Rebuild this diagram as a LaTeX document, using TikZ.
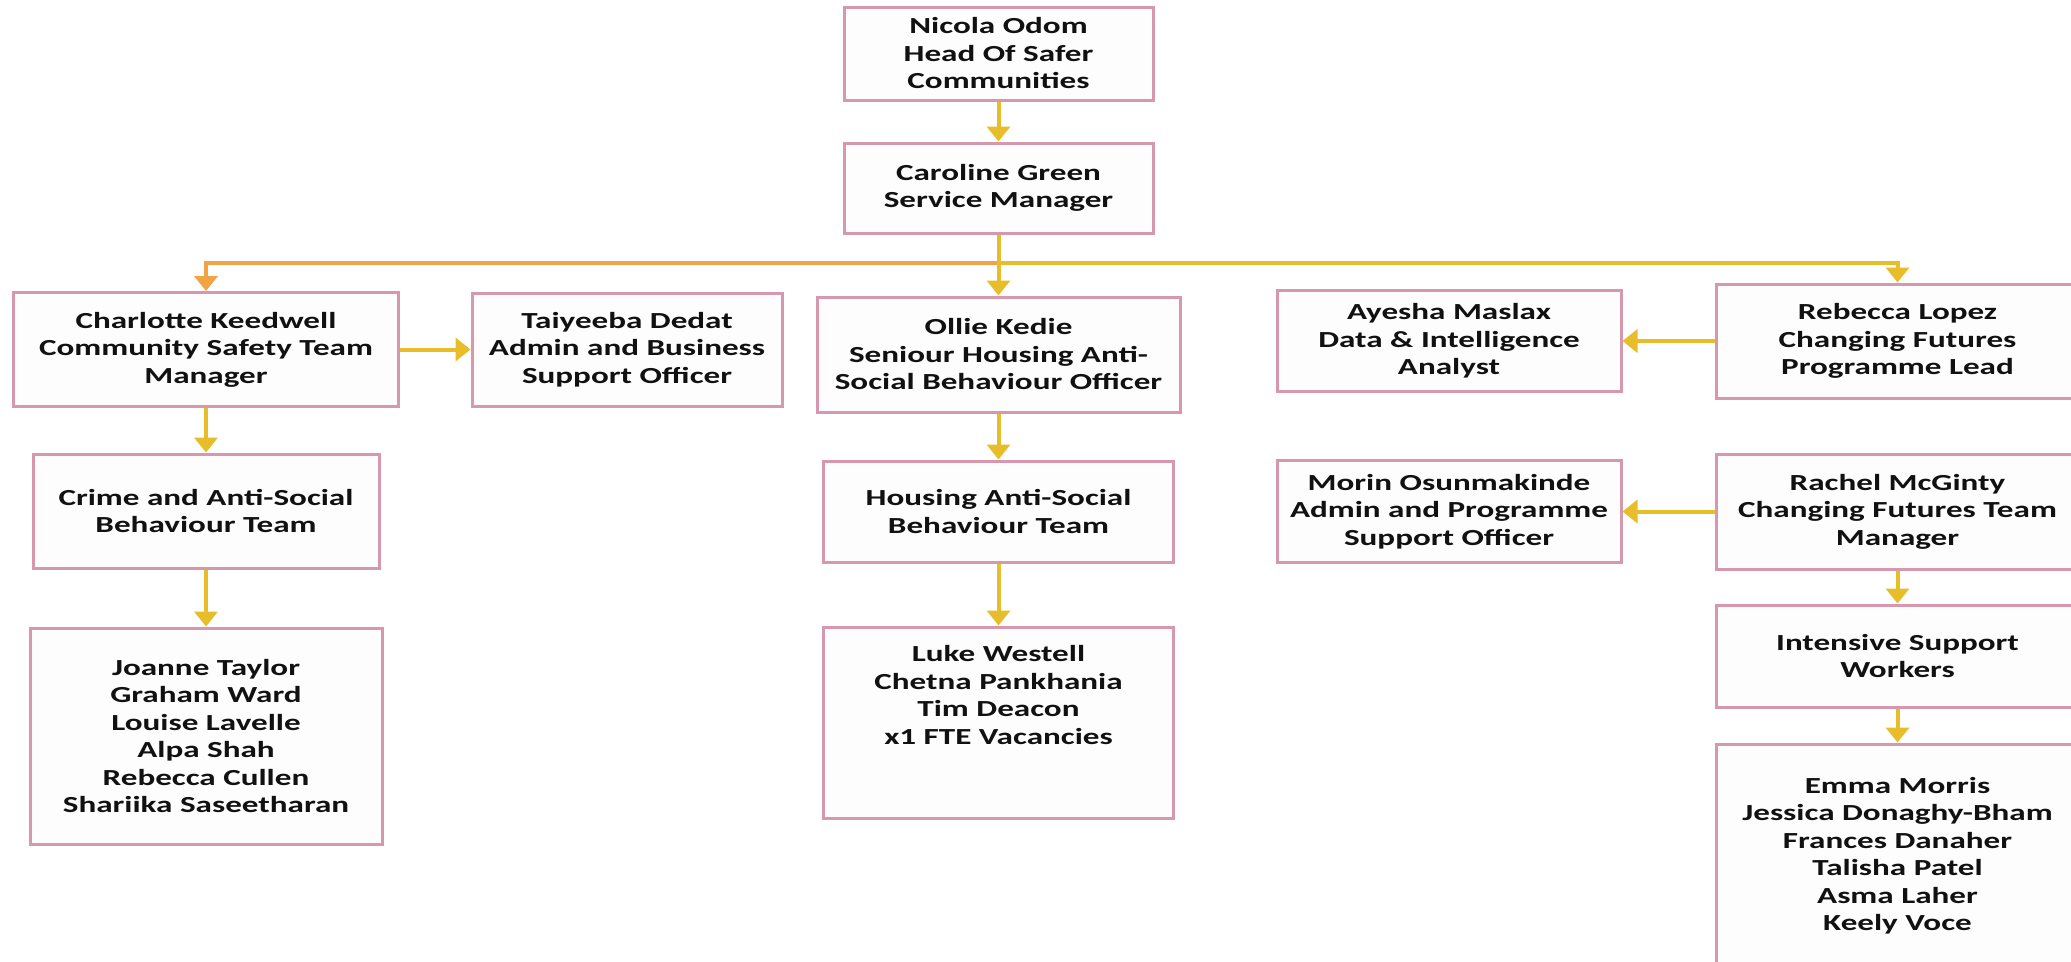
\documentclass[tikz,border=0pt]{standalone}
\usepackage{fontspec}
\setmainfont{Carlito}[FakeStretch=1.44]
\usetikzlibrary{arrows.meta}
\definecolor{boxpink}{HTML}{D697AF}
\definecolor{arrowyellow}{HTML}{E8BD2A}
\definecolor{arroworange}{HTML}{F2A444}
\definecolor{boxfill}{HTML}{FDFDFD}
\definecolor{txt}{HTML}{111111}
\begin{document}
\begin{tikzpicture}[x=1pt,y=-1pt,
  box/.style={draw=boxpink, line width=3pt, fill=boxfill, align=center, inner sep=0pt,
    font=\bfseries\fontsize{23}{27.5}\selectfont, text=txt},
  boxtext/.style={align=center, inner sep=0pt, font=\bfseries\fontsize{23}{27.5}\selectfont, text=txt},
  conn/.style={draw=arrowyellow, line width=4pt, -{Triangle[width=23pt,length=15pt]}},
  connorange/.style={draw=arroworange, line width=4pt, -{Triangle[width=23pt,length=15pt]}}]
\useasboundingbox (0,0) rectangle (2071,961);
\clip (0,0) rectangle (2071,961);
\fill[white] (0,0) rectangle (2071,961);
% top
\node[box, minimum width=309pt, minimum height=93pt] (nicola) at (998.5,53.5) {Nicola Odom\\Head Of Safer\\Communities};
\node[box, minimum width=309pt, minimum height=90pt] (caroline) at (998.5,188) {Caroline Green\\Service Manager};
% left column
\node[box, minimum width=385pt, minimum height=114pt] (charlotte) at (206,349.5) {Charlotte Keedwell\\Community Safety Team\\Manager};
\node[box, minimum width=310pt, minimum height=113pt] (taiyeeba) at (627,349.5) {Taiyeeba Dedat\\Admin and Business\\Support Officer};
\node[box, minimum width=346pt, minimum height=114pt] (crime) at (206,511) {Crime and Anti-Social\\Behaviour Team};
\node[box, minimum width=352pt, minimum height=216pt] (joanne) at (206,736) {Joanne Taylor\\Graham Ward\\Louise Lavelle\\Alpa Shah\\Rebecca Cullen\\Shariika Saseetharan};
% centre column
\node[box, minimum width=363pt, minimum height=115pt] (ollie) at (998.5,354.5) {Ollie Kedie\\Seniour Housing Anti-\\Social Behaviour Officer};
\node[box, minimum width=350pt, minimum height=101pt] (housing) at (998.5,511.5) {Housing Anti-Social\\Behaviour Team};
\node[box, minimum width=350pt, minimum height=191pt] (luke) at (998.5,722.5) {};
\node[boxtext] (luketext) at (998.5,695) {Luke Westell\\Chetna Pankhania\\Tim Deacon\\x1 FTE Vacancies};
% right columns
\node[box, minimum width=344pt, minimum height=101pt] (ayesha) at (1449,341) {Ayesha Maslax\\Data \& Intelligence\\Analyst};
\node[box, minimum width=363pt, minimum height=114pt] (rebecca) at (1897.5,341) {Rebecca Lopez\\Changing Futures\\Programme Lead};
\node[box, minimum width=344pt, minimum height=102pt] (morin) at (1449,511.5) {Morin Osunmakinde\\Admin and Programme\\Support Officer};
\node[box, minimum width=363pt, minimum height=115pt] (rachel) at (1897.5,511.5) {Rachel McGinty\\Changing Futures Team\\Manager};
\node[box, minimum width=363pt, minimum height=102pt] (intensive) at (1897.5,656) {Intensive Support\\Workers};
\node[box, minimum width=363pt, minimum height=223pt] (emma) at (1897.5,855.5) {Emma Morris\\Jessica Donaghy-Bham\\Frances Danaher\\Talisha Patel\\Asma Laher\\Keely Voce};
% connectors
\coordinate (bus) at (998.5,263);
\draw[conn] (nicola) -- (caroline);
\draw[connorange] (bus) -| (charlotte.north);
\draw[conn] (bus) -| (rebecca.north);
\draw[conn] (caroline) -- (ollie);
\draw[conn] (charlotte) -- (taiyeeba);
\draw[conn] (charlotte) -- (crime);
\draw[conn] (crime) -- (joanne);
\draw[conn] (ollie) -- (housing);
\draw[conn] (housing) -- (luke);
\draw[conn] (rebecca) -- (ayesha);
\draw[conn] (rachel) -- (morin);
\draw[conn] (rachel) -- (intensive);
\draw[conn] (intensive) -- (emma);
\end{tikzpicture}
\end{document}
